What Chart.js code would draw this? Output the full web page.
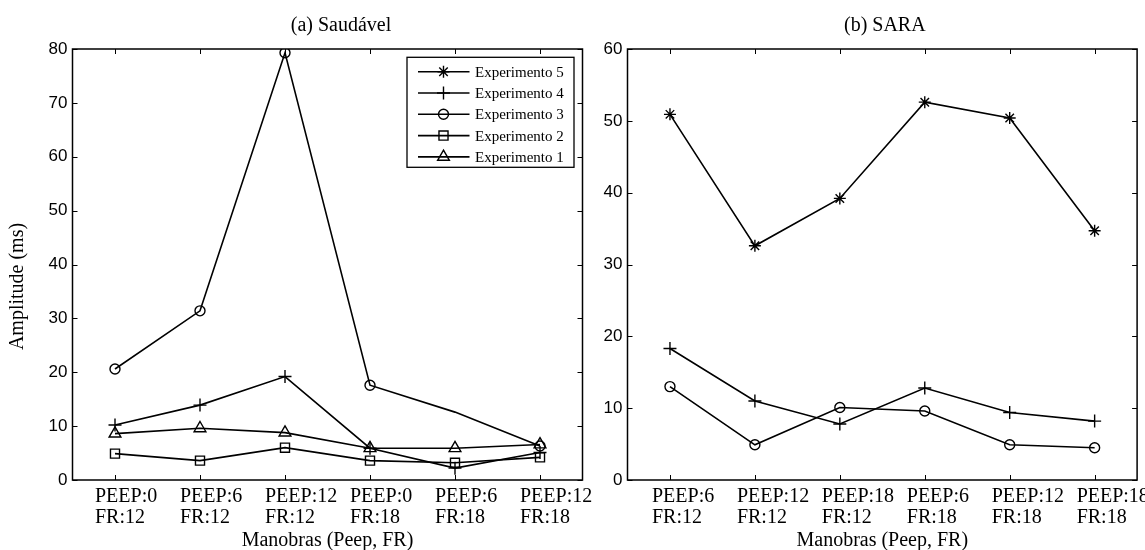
<!DOCTYPE html>
<html lang="pt">
<head>
    <meta charset="UTF-8">
    <title>Amplitude por manobra</title>
    <script src="https://cdn.jsdelivr.net/npm/chart.js"></script>
    <style>
        body {
            margin: 0;
            background-color: #ffffff;
        }

        #painel {
            position: relative;
            width: 1145px;
            height: 550px;
        }

        #graficoA {
            position: absolute;
            left: 0;
            top: 0;
        }

        #graficoB {
            position: absolute;
            left: 600px;
            top: 0;
        }
    </style>
</head>
<body>
<div id="painel">
    <canvas id="graficoA" width="600" height="550"></canvas>
    <canvas id="graficoB" width="545" height="550"></canvas>
</div>

<script>
    // Manobras (eixo x)
    const manobrasSaudavel = [
        ['PEEP:0', 'FR:12'], ['PEEP:6', 'FR:12'], ['PEEP:12', 'FR:12'],
        ['PEEP:0', 'FR:18'], ['PEEP:6', 'FR:18'], ['PEEP:12', 'FR:18']
    ];
    const manobrasSara = [
        ['PEEP:6', 'FR:12'], ['PEEP:12', 'FR:12'], ['PEEP:18', 'FR:12'],
        ['PEEP:6', 'FR:18'], ['PEEP:12', 'FR:18'], ['PEEP:18', 'FR:18']
    ];

    // (a) Saudável - amplitude em ms
    const exp5Saudavel = [null, null, null, null, null, null];
    const exp4Saudavel = [10.2, 13.9, 19.2, 5.9, 2.2, 5.1];
    const exp3Saudavel = [20.6, 31.4, 79.3, 17.6, 12.6, 6.3];
    const exp2Saudavel = [4.9, 3.6, 6.0, 3.6, 3.2, 4.2];
    const exp1Saudavel = [8.6, 9.6, 8.8, 5.9, 5.9, 6.6];

    // (b) SARA - amplitude em ms
    const exp5Sara = [50.9, 32.6, 39.2, 52.6, 50.4, 34.7];
    const exp4Sara = [18.3, 11.0, 7.8, 12.8, 9.4, 8.2];
    const exp3Sara = [13.0, 4.9, 10.1, 9.6, 4.9, 4.5];

    const ticksY = { saudavel: { max: 80 }, sara: { max: 60 }, passo: 10 };

    const serifa = 'Liberation Serif, Times New Roman, serif';
    const semSerifa = 'Liberation Sans, Arial, sans-serif';

    // estilo de cada experimento (marcador como no matlab)
    const estilos = {
        'Experimento 5': { pointStyle: 'star', pointRadius: 6 },
        'Experimento 4': { pointStyle: 'cross', pointRadius: 6.5 },
        'Experimento 3': { pointStyle: 'circle', pointRadius: 5 },
        'Experimento 2': { pointStyle: 'rect', pointRadius: 6.4 },
        'Experimento 1': { pointStyle: 'triangle', pointRadius: 6.8 }
    };

    function serie(nome, valores, extra) {
        return Object.assign({
            label: nome,
            data: valores,
            borderColor: '#000',
            borderWidth: 1.6,
            pointBorderColor: '#000',
            pointBackgroundColor: 'rgba(0,0,0,0)',
            pointBorderWidth: 1.4,
            tension: 0,
            fill: false
        }, estilos[nome], extra || {});
    }

    // moldura, ticks internos, títulos e legenda desenhados por cima
    const moldura = {
        id: 'moldura',
        afterDatasetsDraw(chart, args, opts) {
            const ctx = chart.ctx;
            const a = chart.chartArea;
            const sx = chart.scales.x;
            const sy = chart.scales.y;
            ctx.save();
            ctx.strokeStyle = '#000';
            ctx.lineWidth = 1.5;
            ctx.strokeRect(a.left, a.top, a.right - a.left, a.bottom - a.top);

            ctx.lineWidth = 1;
            ctx.beginPath();
            sx.ticks.forEach((t, i) => {
                const x = Math.round(sx.getPixelForTick(i)) + 0.5;
                ctx.moveTo(x, a.bottom); ctx.lineTo(x, a.bottom - 5);
                ctx.moveTo(x, a.top); ctx.lineTo(x, a.top + 5);
            });
            sy.ticks.forEach(t => {
                const y = Math.round(sy.getPixelForValue(t.value)) + 0.5;
                ctx.moveTo(a.left, y); ctx.lineTo(a.left + 5, y);
                ctx.moveTo(a.right, y); ctx.lineTo(a.right - 5, y);
            });
            ctx.stroke();

            // título do painel
            ctx.fillStyle = '#000';
            ctx.font = '20px ' + serifa;
            ctx.textAlign = 'center';
            ctx.textBaseline = 'alphabetic';
            ctx.fillText(opts.titulo, (a.left + a.right) / 2 + opts.dx, 31);

            // título do eixo y
            if (opts.tituloY) {
                ctx.save();
                ctx.translate(18, (a.top + a.bottom) / 2 + 22);
                ctx.rotate(-Math.PI / 2);
                ctx.textBaseline = 'middle';
                ctx.fillText(opts.tituloY, 0, 0);
                ctx.restore();
            }

            if (opts.legenda) {
                const w = 167, h = 110;
                const bx = a.right - 8.5 - w;
                const by = a.top + 8.3;
                ctx.fillStyle = '#fff';
                ctx.fillRect(bx, by, w, h);
                ctx.lineWidth = 1.3;
                ctx.strokeRect(bx, by, w, h);
                ctx.font = '15px ' + serifa;
                ctx.textAlign = 'left';
                ctx.textBaseline = 'middle';
                chart.data.datasets.forEach((ds, i) => {
                    const y = by + 14.4 + i * 21.3;
                    ctx.strokeStyle = '#000';
                    ctx.lineWidth = 1.6;
                    ctx.beginPath();
                    ctx.moveTo(bx + 11, y);
                    ctx.lineTo(bx + 62.5, y);
                    ctx.stroke();
                    ctx.fillStyle = 'rgba(0,0,0,0)';
                    ctx.lineWidth = 1.4;
                    Chart.helpers.drawPoint(ctx, {
                        pointStyle: ds.pointStyle,
                        radius: estilos[ds.label].pointRadius,
                        rotation: 0,
                        borderWidth: 1.4
                    }, bx + 36.5, y);
                    ctx.fillStyle = '#000';
                    ctx.fillText(ds.label, bx + 68, y + 1);
                });
            }
            ctx.restore();
        }
    };

    function opcoes(maxY, larguraY, dx, deslocRotulo, titulo, tituloY, legenda, direita) {
        return {
            responsive: false,
            animation: false,
            layout: { padding: { top: 49, right: direita, left: 0, bottom: 0 } },
            plugins: {
                legend: { display: false },
                tooltip: { enabled: false },
                moldura: { titulo: titulo, tituloY: tituloY, dx: dx, legenda: legenda }
            },
            scales: {
                x: {
                    offset: true,
                    grid: { display: false, drawTicks: false },
                    border: { display: false },
                    ticks: {
                        color: '#000',
                        align: 'start',
                        labelOffset: deslocRotulo,
                        padding: 7,
                        maxRotation: 0,
                        autoSkip: false,
                        font: { family: serifa, size: 20, lineHeight: 1.02 }
                    },
                    title: {
                        display: true,
                        text: 'Manobras (Peep, FR)',
                        color: '#000',
                        font: { family: serifa, size: 20, lineHeight: 1.2 },
                        padding: { top: 0, bottom: -3 }
                    },
                    afterFit(s) {
                        s.height = 70;
                        s.paddingLeft = 0;
                        s.paddingRight = 0;
                    }
                },
                y: {
                    min: 0,
                    max: maxY,
                    grid: { display: false, drawTicks: false },
                    border: { display: false },
                    ticks: {
                        stepSize: ticksY.passo,
                        color: '#000',
                        padding: 5,
                        font: { family: semSerifa, size: 17 }
                    },
                    afterFit(s) {
                        s.width = larguraY;
                        s.paddingTop = 0;
                        s.paddingBottom = 0;
                    }
                }
            }
        };
    }

    new Chart(document.getElementById('graficoA').getContext('2d'), {
        type: 'line',
        data: {
            labels: manobrasSaudavel,
            datasets: [
                serie('Experimento 5', exp5Saudavel),
                serie('Experimento 4', exp4Saudavel),
                serie('Experimento 3', exp3Saudavel, { pointRadius: [5, 5, 5, 5, 0, 5] }),
                serie('Experimento 2', exp2Saudavel),
                serie('Experimento 1', exp1Saudavel)
            ]
        },
        options: opcoes(ticksY.saudavel.max, 72.5, 13.5, -20, '(a) Saudável', 'Amplitude (ms)', true, 17.5),
        plugins: [moldura]
    });

    new Chart(document.getElementById('graficoB').getContext('2d'), {
        type: 'line',
        data: {
            labels: manobrasSara,
            datasets: [
                serie('Experimento 5', exp5Sara),
                serie('Experimento 4', exp4Sara),
                serie('Experimento 3', exp3Sara)
            ]
        },
        options: opcoes(ticksY.sara.max, 27.5, 2.5, -18, '(b) SARA', null, false, 7.5),
        plugins: [moldura]
    });
</script>
</body>
</html>
